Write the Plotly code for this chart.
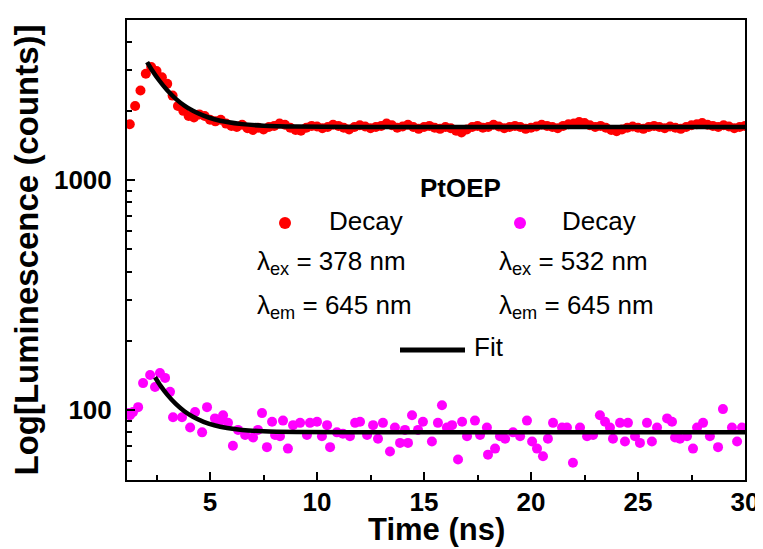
import plotly.graph_objects as go

# ---------------- data ----------------
red_time = [1.25, 1.5, 1.75, 2.0, 2.25, 2.5, 2.75, 3.0, 3.25, 3.5, 3.75, 4.0, 4.25, 4.5, 4.75,
            5.0, 5.25, 5.5, 5.75, 6.0, 6.25, 6.5, 6.75, 7.0, 7.25, 7.5, 7.75, 8.0, 8.25, 8.5,
            8.75, 9.0, 9.25, 9.5, 9.75, 10.0, 10.25, 10.5, 10.75, 11.0, 11.25, 11.5, 11.75, 12.0,
            12.25, 12.5, 12.75, 13.0, 13.25, 13.5, 13.75, 14.0, 14.25, 14.5, 14.75, 15.0, 15.25,
            15.5, 15.75, 16.0, 16.25, 16.5, 16.75, 17.0, 17.25, 17.5, 17.75, 18.0, 18.25, 18.5,
            18.75, 19.0, 19.25, 19.5, 19.75, 20.0, 20.25, 20.5, 20.75, 21.0, 21.25, 21.5, 21.75,
            22.0, 22.25, 22.5, 22.75, 23.0, 23.25, 23.5, 23.75, 24.0, 24.25, 24.5, 24.75, 25.0,
            25.25, 25.5, 25.75, 26.0, 26.25, 26.5, 26.75, 27.0, 27.25, 27.5, 27.75, 28.0, 28.25,
            28.5, 28.75, 29.0, 29.25, 29.5, 29.75, 30.0]
red_counts = [1750, 2100, 2450, 2900, 3100, 2980, 2800, 2620, 2330, 2100, 2000, 1900, 1870, 1930, 1900,
              1830, 1800, 1830, 1760, 1720, 1700, 1740, 1680, 1650, 1690, 1660, 1700, 1720, 1760, 1740,
              1690, 1650, 1640, 1690, 1720, 1710, 1680, 1700, 1740, 1720, 1690, 1660, 1700, 1730,
              1710, 1680, 1700, 1720, 1760, 1730, 1690, 1710, 1740, 1700, 1670, 1700, 1720,
              1690, 1670, 1700, 1680, 1640, 1610, 1660, 1700, 1720, 1690, 1700, 1740, 1710,
              1680, 1700, 1720, 1700, 1670, 1690, 1710, 1740, 1720, 1700, 1680, 1720, 1750,
              1760, 1790, 1770, 1730, 1700, 1720, 1690, 1650, 1630, 1660, 1690, 1710, 1690,
              1670, 1700, 1720, 1700, 1680, 1710, 1690, 1670, 1700, 1730, 1750, 1770, 1740,
              1720, 1700, 1730, 1710, 1680, 1700, 1720]

mag_time = [1.17, 1.26, 1.40, 1.64, 1.87, 2.20, 2.43, 2.66, 2.90, 3.13, 3.27, 3.69, 4.07, 4.30, 4.63,
            4.86, 5.23, 5.47, 5.61, 5.84, 6.07, 6.31, 6.64, 7.01, 7.24, 7.43, 7.66, 7.90, 8.04, 8.27,
            8.41, 8.64, 8.88, 9.21, 9.53, 9.67, 10.00, 10.23, 10.47, 10.61, 10.93, 11.21, 11.54,
            11.78, 12.01, 12.34, 12.62, 12.85, 13.08, 13.41, 13.64, 13.88, 14.11, 14.25, 14.44,
            14.72, 14.95, 15.37, 15.65, 15.84, 16.07, 16.31, 16.59, 16.78, 17.01, 17.38, 17.62,
            17.94, 17.99, 18.32, 18.55, 18.79, 19.16, 19.49, 19.81, 20.05, 20.28, 20.56, 20.79,
            21.03, 21.45, 21.68, 21.96, 22.29, 22.62, 22.90, 23.22, 23.46, 23.69, 23.83, 24.16,
            24.39, 24.53, 24.86, 25.09, 25.42, 25.65, 25.89, 26.36, 26.59, 26.73, 26.96, 27.29,
            27.57, 27.76, 28.04, 28.36, 28.74, 28.97, 29.39, 29.63, 29.86]
mag_counts = [97, 95, 98, 103, 131, 142, 126, 145, 138, 120, 93, 93, 84, 98, 80,
              103, 92, 90, 95, 88, 70, 82, 78, 76, 82, 97, 69, 89, 78, 77,
              90, 68, 86, 88, 78, 88, 89, 77, 86, 69, 80, 79, 77,
              88, 89, 78, 86, 75, 88, 66, 84, 72, 82, 72, 95,
              82, 89, 73, 88, 105, 84, 86, 61, 89, 77, 90, 78,
              84, 64, 68, 77, 75, 80, 77, 90, 73, 68, 63, 75,
              88, 84, 84, 59, 84, 77, 78, 95, 89, 84, 75, 88,
              73, 88, 77, 72, 88, 73, 84, 92, 89, 76, 75, 77,
              68, 84, 88, 77, 69, 101, 84, 73, 84]

red_fit_time = [2.06, 2.3, 2.6, 3.0, 3.4, 3.8, 4.2, 4.7, 5.2, 5.8, 6.5, 7.5, 9.0, 12.0, 30.0]
red_fit_counts = [3260, 2997, 2730, 2457, 2256, 2109, 2001, 1905, 1839, 1788, 1751, 1724, 1708, 1701, 1700]

mag_fit_time = [2.43, 2.7, 3.0, 3.4, 3.8, 4.2, 4.7, 5.2, 5.8, 6.5, 7.5, 9.0, 12.0, 30.0]
mag_fit_counts = [139, 127.1, 116.7, 106.3, 98.8, 93.5, 88.9, 85.9, 83.6, 82.0, 80.9, 80.3, 80.0, 80.0]

x_ticks = [5, 10, 15, 20, 25, 30]
x_minor = [2.5, 7.5, 12.5, 17.5, 22.5, 27.5]
y_ticks = [100, 1000]
y_ticktext = ["100", "1000"]
y_minor = [50, 60, 70, 80, 90, 200, 300, 400, 500, 600, 700, 800, 900, 2000, 3000, 4000]

FONT = "Liberation Sans, Arial, sans-serif"
RED = "#ff0000"
MAG = "#ff00ff"

# ---------------- figure ----------------
fig = go.Figure()
fig.add_trace(go.Scatter(x=red_time, y=red_counts, mode="markers",
                         marker=dict(color=RED, size=10, line=dict(width=0)), showlegend=False))
fig.add_trace(go.Scatter(x=mag_time, y=mag_counts, mode="markers",
                         marker=dict(color=MAG, size=10, line=dict(width=0)), showlegend=False))
fig.add_trace(go.Scatter(x=red_fit_time, y=red_fit_counts, mode="lines",
                         line=dict(color="black", width=4.5, shape="spline", smoothing=0.8),
                         showlegend=False))
fig.add_trace(go.Scatter(x=mag_fit_time, y=mag_fit_counts, mode="lines",
                         line=dict(color="black", width=4.5, shape="spline", smoothing=0.8),
                         showlegend=False))

# The page body adds an 8 px offset; the figure keeps full size and the margins
# compensate so the plot area sits at page pixels x 127..745, y 20..480.
OFF = 8
W, H = 763, 549
L, R, T, B = 127 - OFF, 18 + OFF, 20 - OFF, 69 + OFF
PW, PH = W - L - R, H - T - B


def px(xpix):  # page pixel -> paper x
    return (xpix - OFF - L) / PW


def py(ypix):  # page pixel -> paper y
    return (H - B - (ypix - OFF)) / PH


# legend-like annotations and the x-axis title
ann = []
ann.append(dict(text="PtOEP", x=px(460), y=py(188), xanchor="center", yanchor="middle",
                font=dict(size=26, weight="bold", family=FONT, color="black")))
for xl, txt in [(327, "Decay"), (560, "Decay")]:
    ann.append(dict(text=txt, x=px(xl), y=py(221), xanchor="left", yanchor="middle",
                    font=dict(size=26, family=FONT, color="black")))
for xl, txt in [(255, "λ<sub>ex</sub> = 378 nm"), (497, "λ<sub>ex</sub> = 532 nm")]:
    ann.append(dict(text=txt, x=px(xl), y=py(262), xanchor="left", yanchor="middle",
                    font=dict(size=26, family=FONT, color="black")))
for xl, txt in [(255, "λ<sub>em</sub> = 645 nm"), (497, "λ<sub>em</sub> = 645 nm")]:
    ann.append(dict(text=txt, x=px(xl), y=py(306), xanchor="left", yanchor="middle",
                    font=dict(size=26, family=FONT, color="black")))
ann.append(dict(text="Fit", x=px(472), y=py(347), xanchor="left", yanchor="middle",
                font=dict(size=26, family=FONT, color="black")))
ann.append(dict(text="Time (ns)", x=px(436), y=py(529), xanchor="center", yanchor="middle",
                font=dict(size=31, weight="bold", family=FONT, color="black")))
for a in ann:
    a.update(xref="paper", yref="paper", showarrow=False)

shapes = []
for cx, col in [(285, RED), (520, MAG)]:
    shapes.append(dict(type="circle", xref="paper", yref="paper", xsizemode="pixel",
                       ysizemode="pixel", xanchor=px(cx), yanchor=py(223),
                       x0=-6, x1=6, y0=-6, y1=6, fillcolor=col, line=dict(width=0)))
shapes.append(dict(type="line", xref="paper", yref="paper", x0=px(400), x1=px(465),
                   y0=py(350), y1=py(350), line=dict(color="black", width=5)))

fig.update_layout(
    width=W, height=H,
    margin=dict(l=L, r=R, t=T, b=B, autoexpand=False),
    paper_bgcolor="white", plot_bgcolor="white",
    font=dict(family=FONT, color="black"),
    annotations=ann, shapes=shapes,
    xaxis=dict(range=[1.12, 30.0], automargin=False, showline=True, linewidth=2,
               linecolor="black", mirror=True,
               showgrid=False, zeroline=False, ticks="inside", ticklen=8, tickwidth=2,
               tickcolor="black", tickmode="array", tickvals=x_ticks,
               tickfont=dict(size=26, weight="bold", family=FONT), ticklabelstandoff=-2,
               ticklabeloverflow="allow",
               minor=dict(tickmode="array", tickvals=x_minor, ticks="inside", ticklen=5,
                          tickwidth=2, tickcolor="black", showgrid=False)),
    yaxis=dict(type="log", range=[1.696, 3.696], automargin=False, showline=True, linewidth=2,
               linecolor="black",
               mirror=True, showgrid=False, zeroline=False, ticks="inside", ticklen=8,
               tickwidth=2, tickcolor="black", tickmode="array", tickvals=y_ticks,
               ticktext=y_ticktext, tickfont=dict(size=26, weight="bold", family=FONT),
               ticklabelstandoff=8, ticklabeloverflow="allow",
               minor=dict(tickmode="array", tickvals=y_minor, ticks="inside", ticklen=5,
                          tickwidth=2, tickcolor="black", showgrid=False),
               title=dict(text="Log[Luminescence (counts)]",
                          font=dict(size=33, weight="bold", family=FONT), standoff=6)),
)

fig.write_html("out.html")
